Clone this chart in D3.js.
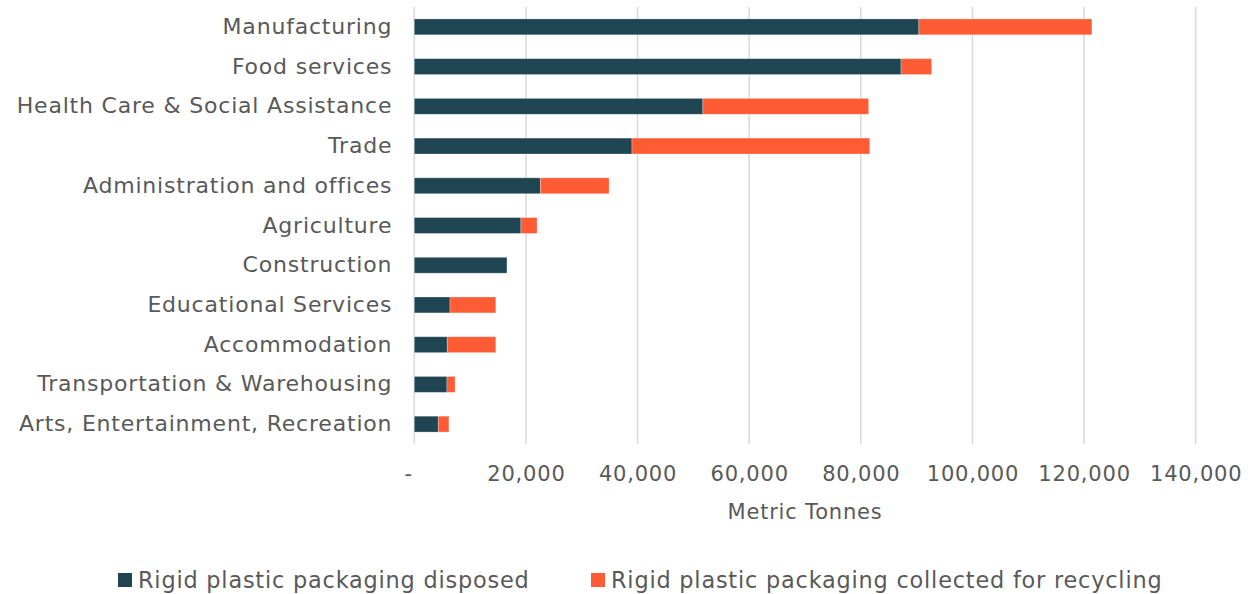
<!DOCTYPE html>
<html>
<head>
<meta charset="utf-8">
<script src="https://cdn.jsdelivr.net/npm/d3@7"></script>
<style>
  html, body { margin: 0; padding: 0; background: #fff; }
  svg { display: block; }
  text { font-family: "DejaVu Sans", sans-serif; fill: #595959; letter-spacing: 0.8px; }
</style>
</head>
<body>
<svg id="chart" width="1253" height="594"></svg>
<script>
// Rigid plastic packaging by sector (metric tonnes)
const categories = [
  "Manufacturing",
  "Food services",
  "Health Care & Social Assistance",
  "Trade",
  "Administration and offices",
  "Agriculture",
  "Construction",
  "Educational Services",
  "Accommodation",
  "Transportation & Warehousing",
  "Arts, Entertainment, Recreation"
];
const disposed = [90400, 87200, 51700, 39000, 22600, 19100, 16600, 6400, 5900, 5850, 4300];
const recycled = [31000, 5500, 29700, 42600, 12300, 2900, 0, 8200, 8700, 1450, 1900];
const seriesNames = ["Rigid plastic packaging disposed", "Rigid plastic packaging collected for recycling"];
const seriesColors = ["#1f4553", "#ff5c35"];
const xTicks = [0, 20000, 40000, 60000, 80000, 100000, 120000, 140000];
const axisTitle = "Metric Tonnes";

const svg = d3.select("#chart");
const plot = { left: 414.3, right: 1195.7, top: 7, bottom: 444 };

const x = d3.scaleLinear().domain([0, 140000]).range([plot.left, plot.right]);
const y = d3.scaleBand().domain(categories).range([plot.top, plot.bottom])
  .paddingInner(0.6).paddingOuter(0.3);

// vertical gridlines
svg.append("g")
  .selectAll("line")
  .data(xTicks)
  .join("line")
  .attr("x1", d => x(d)).attr("x2", d => x(d))
  .attr("y1", plot.top).attr("y2", plot.bottom)
  .attr("stroke", "#d9d9d9")
  .attr("stroke-width", 1.5);

// stacked bars
const rows = categories.map((c, i) => ({ category: c, disposed: disposed[i], recycled: recycled[i] }));
const stack = d3.stack().keys(["disposed", "recycled"]);
const layers = stack(rows);

svg.append("g")
  .selectAll("g")
  .data(layers)
  .join("g")
  .attr("fill", (d, i) => seriesColors[i])
  .selectAll("rect")
  .data(d => d)
  .join("rect")
  .attr("x", d => x(d[0]))
  .attr("y", d => y(d.data.category))
  .attr("width", d => Math.max(0, x(d[1]) - x(d[0])))
  .attr("height", y.bandwidth())
  .attr("stroke", "rgba(255,255,255,0.35)")
  .attr("stroke-width", 0.8);

// category axis labels
const yAxis = d3.axisLeft(y).tickSize(0).tickPadding(22);
const yg = svg.append("g").attr("transform", `translate(${plot.left},0)`).call(yAxis)
  .attr("font-family", null).attr("font-size", 22);
yg.select(".domain").remove();
yg.selectAll("text").attr("fill", "#595959");

// value axis labels
const xAxis = d3.axisBottom(x).tickValues(xTicks).tickSize(0).tickPadding(22)
  .tickFormat(d => d === 0 ? "-" : d3.format(",")(d));
const xg = svg.append("g").attr("transform", `translate(0,${plot.bottom})`).call(xAxis)
  .attr("font-family", null).attr("font-size", 21);
xg.select(".domain").remove();
xg.selectAll("text").attr("fill", "#595959")
  .attr("dx", d => d === 0 ? -6 : 0);

// axis title
svg.append("text")
  .attr("x", (plot.left + plot.right) / 2)
  .attr("y", 519)
  .attr("text-anchor", "middle")
  .attr("font-size", 21)
  .text(axisTitle);

// legend
const legendX = [118, 591];
const lg = svg.append("g");
seriesNames.forEach((name, i) => {
  lg.append("rect")
    .attr("x", legendX[i]).attr("y", 573)
    .attr("width", 14).attr("height", 14)
    .attr("fill", seriesColors[i]);
  lg.append("text")
    .attr("x", legendX[i] + 20).attr("y", 580)
    .attr("dominant-baseline", "central")
    .attr("font-size", 22.4)
    .text(name);
});
</script>
</body>
</html>
